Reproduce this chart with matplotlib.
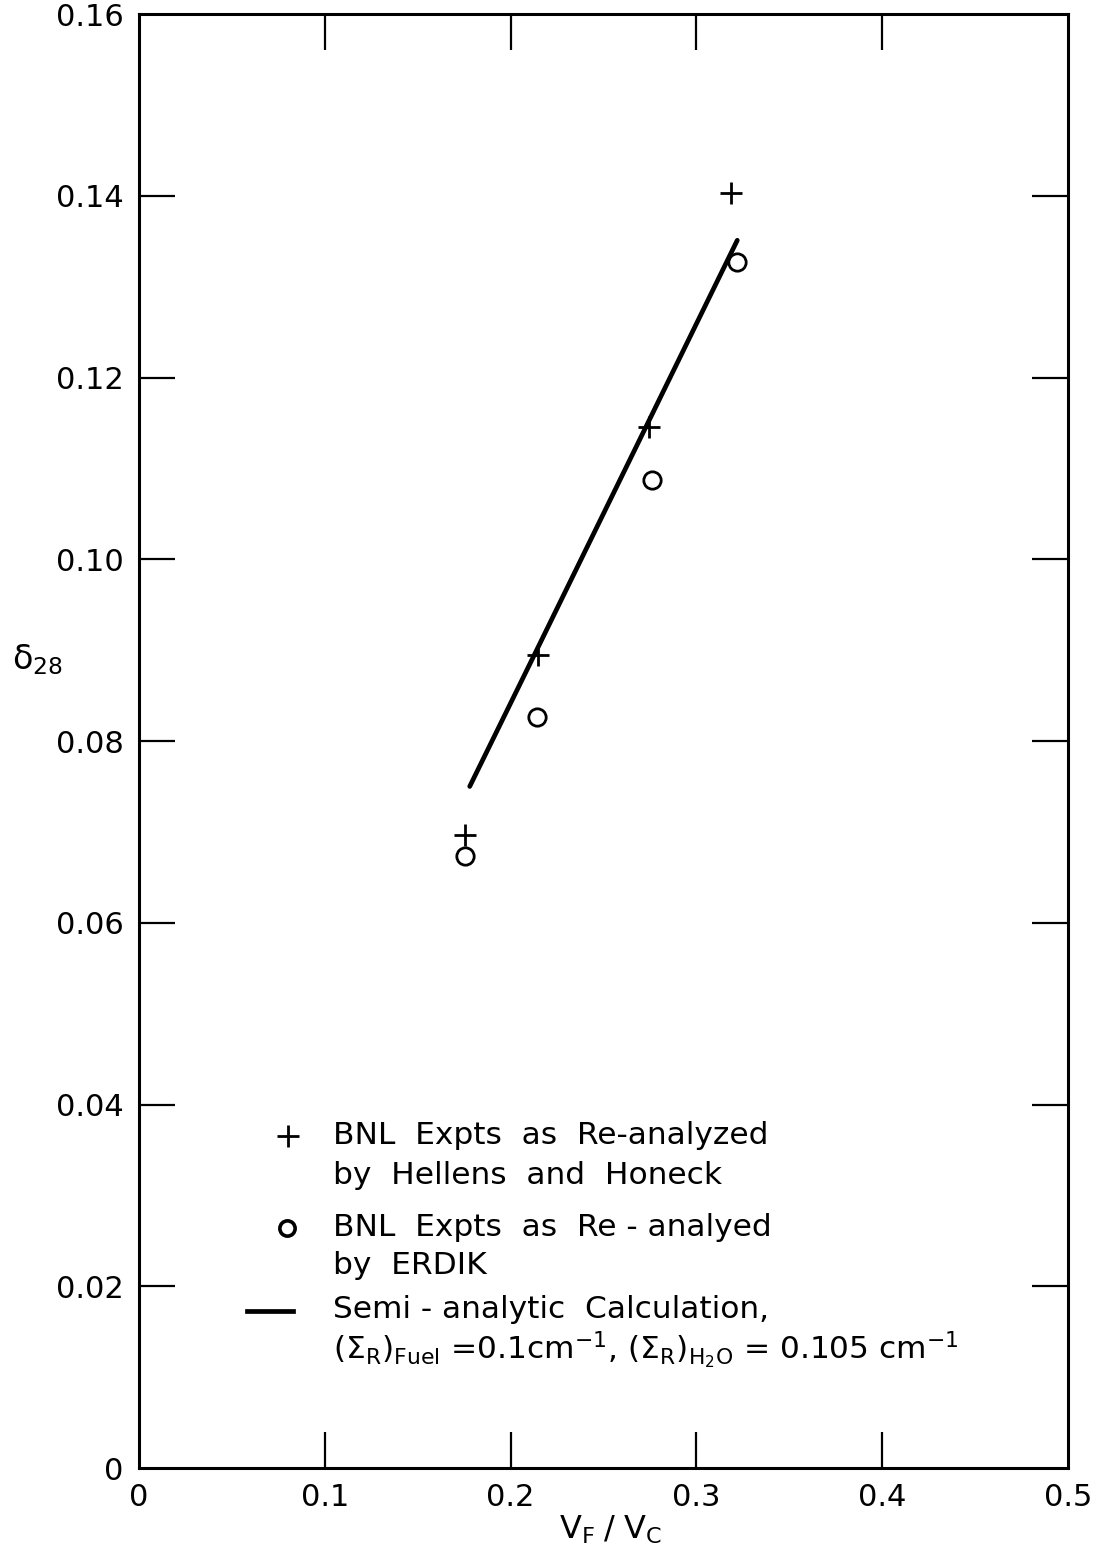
import matplotlib
matplotlib.use("Agg")
import matplotlib.pyplot as plt
from matplotlib.lines import Line2D

plt.rcParams['font.family'] = ['DejaVu Sans']
plt.rcParams['mathtext.fontset'] = 'dejavusans'

# Volume fraction V_F/V_C and delta-28 values
hh_x = [0.1755, 0.2145, 0.2746, 0.3187]      # BNL, Hellens and Honeck
hh_y = [0.0697, 0.0895, 0.1146, 0.1403]
erdik_x = [0.1754, 0.2142, 0.2760, 0.3216]   # BNL, ERDIK
erdik_y = [0.0674, 0.0826, 0.1087, 0.1327]
calc_x = [0.178, 0.2145, 0.2746, 0.322]      # semi-analytic calculation
calc_y = [0.075, 0.0902, 0.1153, 0.1351]

x_ticks = [0, 0.1, 0.2, 0.3, 0.4, 0.5]
x_labels = ['0', '0.1', '0.2', '0.3', '0.4', '0.5']
y_ticks = [0, 0.02, 0.04, 0.06, 0.08, 0.10, 0.12, 0.14, 0.16]
y_labels = ['0', '0.02', '0.04', '0.06', '0.08', '0.10', '0.12', '0.14', '0.16']

W, H = 1093, 1550
fig = plt.figure(figsize=(W / 100, H / 100), dpi=100)
ax = fig.add_axes([139 / W, 1 - 1468 / H, 929 / W, 1454 / H])

ax.plot(calc_x, calc_y, color='black', lw=3.4, solid_capstyle='round')
ax.plot(hh_x, hh_y, ls='none', marker='+', ms=16, mew=2.0, color='black')
ax.plot(erdik_x, erdik_y, ls='none', marker='o', ms=12.5, mew=2.0,
        mfc='none', mec='black')

ax.set_xlim(0, 0.5)
ax.set_ylim(0, 0.16)
ax.set_xticks(x_ticks)
ax.set_xticklabels(x_labels)
ax.set_yticks(y_ticks)
ax.set_yticklabels(y_labels)
ax.tick_params(direction='in', length=26, width=1.6, top=True, right=True,
               labelsize=22, pad=11, colors='black')
for s in ax.spines.values():
    s.set_linewidth(2.2)

# hide end ticks that sit on the frame corners
for t in ax.xaxis.get_major_ticks()[::5]:
    t.tick1line.set_visible(False)
    t.tick2line.set_visible(False)
for t in ax.yaxis.get_major_ticks()[::8]:
    t.tick1line.set_visible(False)
    t.tick2line.set_visible(False)

fig.text(610 / W, 1 - 1530 / H,
         r'$\mathrm{V}_{\mathrm{F}}\;/\;\mathrm{V}_{\mathrm{C}}$',
         ha='center', va='center', fontsize=23)
fig.text(12 / W, 1 - 660 / H, r'δ$_{28}$', ha='left', va='center', fontsize=24)

# legend block
fs = 22.5
tx = 333 / W
fig.add_artist(Line2D([288 / W], [1 - 1136 / H], marker='+', ms=16, mew=2.0,
                      color='black', transform=fig.transFigure))
fig.add_artist(Line2D([287 / W], [1 - 1228 / H], marker='o', ms=11, mew=2.6,
                      mfc='none', mec='black', transform=fig.transFigure))
fig.add_artist(Line2D([247 / W, 293 / W], [1 - 1311 / H, 1 - 1311 / H], lw=3.4,
                      color='black', transform=fig.transFigure))
fig.text(tx, 1 - 1135 / H, 'BNL  Expts  as  Re-analyzed', va='center', fontsize=fs)
fig.text(tx, 1 - 1175 / H, 'by  Hellens  and  Honeck', va='center', fontsize=fs)
fig.text(tx, 1 - 1227 / H, 'BNL  Expts  as  Re - analyed', va='center', fontsize=fs)
fig.text(tx, 1 - 1266 / H, 'by  ERDIK', va='center', fontsize=fs)
fig.text(tx, 1 - 1310 / H, 'Semi - analytic  Calculation,', va='center', fontsize=fs)
fig.text(tx, 1 - 1350 / H,
         r'$(\Sigma_{\mathrm{R}})_{\mathrm{Fuel}}$ =0.1cm$^{-1}$, '
         r'$(\Sigma_{\mathrm{R}})_{\mathrm{H_2O}}$ = 0.105 cm$^{-1}$',
         va='center', fontsize=fs)

fig.savefig('out.png', dpi=100, facecolor='white')
